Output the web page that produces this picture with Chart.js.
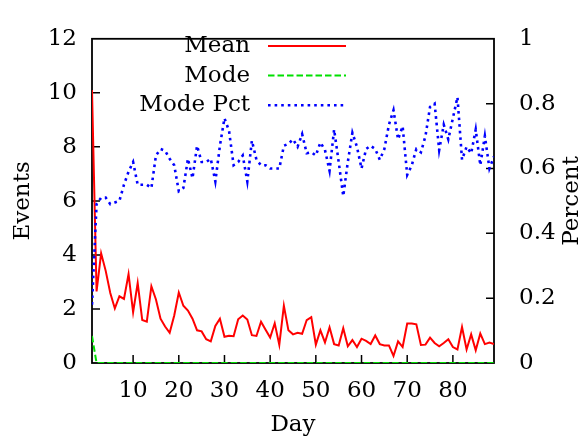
<!DOCTYPE html>
<html>
<head>
<meta charset="utf-8">
<script src="https://cdn.jsdelivr.net/npm/chart.js@4/dist/chart.umd.min.js"></script>
<style>
  html, body { margin: 0; padding: 0; background: #fff; }
  canvas { display: block; }
</style>
</head>
<body>
<canvas id="chart" width="585" height="439"></canvas>
<script>
const DAYS = [
    1, 2, 3, 4, 5, 6, 7, 8, 9, 10, 11, 12, 13, 14, 15, 16, 17, 18, 19, 20,
    21, 22, 23, 24, 25, 26, 27, 28, 29, 30, 31, 32, 33, 34, 35, 36, 37, 38, 39, 40,
    41, 42, 43, 44, 45, 46, 47, 48, 49, 50, 51, 52, 53, 54, 55, 56, 57, 58, 59, 60,
    61, 62, 63, 64, 65, 66, 67, 68, 69, 70, 71, 72, 73, 74, 75, 76, 77, 78, 79, 80,
    81, 82, 83, 84, 85, 86, 87, 88, 89,
];

const MEAN = [
    10.1, 2.65, 4.06, 3.41, 2.59, 2.02, 2.47, 2.37, 3.29, 1.88,
    2.96, 1.59, 1.53, 2.84, 2.35, 1.64, 1.35, 1.12, 1.76, 2.61,
    2.12, 1.94, 1.64, 1.21, 1.17, 0.88, 0.80, 1.37, 1.64, 0.97,
    1.01, 0.99, 1.62, 1.76, 1.61, 1.03, 1.00, 1.53, 1.23, 0.94,
    1.47, 0.67, 2.12, 1.21, 1.06, 1.12, 1.08, 1.59, 1.70, 0.68,
    1.21, 0.76, 1.32, 0.70, 0.65, 1.29, 0.62, 0.85, 0.59, 0.90,
    0.82, 0.70, 1.02, 0.70, 0.65, 0.65, 0.26, 0.80, 0.59, 1.46,
    1.46, 1.43, 0.67, 0.68, 0.94, 0.74, 0.62, 0.74, 0.88, 0.59,
    0.50, 1.33, 0.50, 1.06, 0.47, 1.09, 0.70, 0.76, 0.70,
];

const MODE = [
    1, 0, 0, 0, 0, 0, 0, 0, 0, 0,
    0, 0, 0, 0, 0, 0, 0, 0, 0, 0,
    0, 0, 0, 0, 0, 0, 0, 0, 0, 0,
    0, 0, 0, 0, 0, 0, 0, 0, 0, 0,
    0, 0, 0, 0, 0, 0, 0, 0, 0, 0,
    0, 0, 0, 0, 0, 0, 0, 0, 0, 0,
    0, 0, 0, 0, 0, 0, 0, 0, 0, 0,
    0, 0, 0, 0, 0, 0, 0, 0, 0, 0,
    0, 0, 0, 0, 0, 0, 0, 0, 0,
];

const MODE_PCT = [
    0.18, 0.49, 0.51, 0.51, 0.49, 0.495, 0.50, 0.55, 0.59, 0.62,
    0.55, 0.55, 0.55, 0.54, 0.64, 0.66, 0.655, 0.63, 0.61, 0.53,
    0.54, 0.63, 0.57, 0.67, 0.62, 0.62, 0.63, 0.56, 0.67, 0.755,
    0.716, 0.61, 0.62, 0.64, 0.56, 0.686, 0.627, 0.61, 0.61, 0.60,
    0.60, 0.60, 0.67, 0.676, 0.69, 0.667, 0.706, 0.647, 0.65, 0.64,
    0.68, 0.657, 0.593, 0.72, 0.62, 0.515, 0.62, 0.71, 0.667, 0.60,
    0.66, 0.67, 0.66, 0.627, 0.66, 0.735, 0.78, 0.69, 0.73, 0.58,
    0.61, 0.66, 0.65, 0.70, 0.79, 0.80, 0.657, 0.735, 0.69, 0.755,
    0.82, 0.627, 0.667, 0.647, 0.72, 0.61, 0.70, 0.60, 0.637,
];

const X_TICKS = [10, 20, 30, 40, 50, 60, 70, 80];
const SERIES_NAMES = ['Mean', 'Mode', 'Mode Pct'];
const RIGHT_TITLE = 'Percent';

const FONT = { family: "'DejaVu Serif', serif", size: 23 };
const BLACK = '#000';

// gnuplot style: full border, inward ticks
const framePlugin = {
    id: 'frame',
    beforeDatasetsDraw(chart) {
        const { ctx, chartArea: a, scales } = chart;
        const len = 8;
        ctx.save();
        ctx.strokeStyle = BLACK;
        ctx.lineWidth = 1.5;
        ctx.beginPath();
        scales.y.ticks.forEach((t) => {
            if (t.value <= scales.y.min || t.value >= scales.y.max) return;
            const py = scales.y.getPixelForValue(t.value);
            ctx.moveTo(a.left, py); ctx.lineTo(a.left + len, py);
        });
        scales.y1.ticks.forEach((t) => {
            if (t.value <= scales.y1.min || t.value >= scales.y1.max) return;
            const py = scales.y1.getPixelForValue(t.value);
            ctx.moveTo(a.right, py); ctx.lineTo(a.right - len, py);
        });
        scales.x.ticks.forEach((t) => {
            const px = scales.x.getPixelForValue(t.value);
            ctx.moveTo(px, a.bottom); ctx.lineTo(px, a.bottom - len);
        });
        ctx.stroke();
        ctx.lineWidth = 1.8;
        ctx.strokeRect(a.left, a.top, a.right - a.left, a.bottom - a.top);
        ctx.restore();
    },
};

// key in the top left: right-aligned names, sample line after them;
// right axis title reads bottom-to-top like the left one
const keyPlugin = {
    id: 'key',
    afterDatasetsDraw(chart) {
        const { ctx, chartArea: a } = chart;
        ctx.save();
        ctx.font = `${FONT.size}px ${FONT.family}`;
        ctx.fillStyle = BLACK;
        ctx.textAlign = 'right';
        ctx.textBaseline = 'alphabetic';
        chart.data.datasets.forEach((ds, i) => {
            const base = 52 + i * 29.6;
            ctx.fillText(ds.label, 250, base);
            ctx.strokeStyle = ds.borderColor;
            ctx.lineWidth = ds.borderWidth;
            ctx.setLineDash(ds.borderDash || []);
            ctx.beginPath();
            ctx.moveTo(268, base - 6);
            ctx.lineTo(346, base - 6);
            ctx.stroke();
        });
        ctx.translate(572, (a.top + a.bottom) / 2);
        ctx.rotate(-Math.PI / 2);
        ctx.textAlign = 'center';
        ctx.textBaseline = 'middle';
        ctx.fillText(RIGHT_TITLE, 0, 0);
        ctx.restore();
    },
};

function fixWidth(w) {
    return (scale) => { scale.width = w; };
}

new Chart(document.getElementById('chart'), {
    type: 'line',
    data: {
        labels: DAYS,
        datasets: [
            { label: SERIES_NAMES[0], data: MEAN, yAxisID: 'y', borderColor: '#ff0000', borderWidth: 2, order: 3 },
            { label: SERIES_NAMES[1], data: MODE, yAxisID: 'y', borderColor: '#00e000', borderWidth: 2, borderDash: [6.5, 3], order: 2 },
            { label: SERIES_NAMES[2], data: MODE_PCT, yAxisID: 'y1', borderColor: '#0000ff', borderWidth: 2.6, borderDash: [2.6, 4], order: 1 },
        ],
    },
    options: {
        responsive: false,
        animation: false,
        events: [],
        elements: { point: { radius: 0 }, line: { tension: 0, borderCapStyle: 'butt', borderJoinStyle: 'miter' } },
        layout: { padding: { top: 23, left: 0, right: 0, bottom: 0 } },
        plugins: { legend: { display: false }, tooltip: { enabled: false } },
        scales: {
            x: {
                type: 'linear',
                min: 1, max: 89,
                afterBuildTicks: (s) => { s.ticks = X_TICKS.map((v) => ({ value: v })); },
                afterFit: (s) => { s.height = 76; },
                grid: { display: false, drawTicks: false },
                border: { display: false },
                ticks: { font: FONT, color: BLACK, padding: 14, maxRotation: 0, autoSkip: false },
                title: { display: true, text: 'Day', font: FONT, color: BLACK, padding: 0 },
            },
            y: {
                position: 'left',
                min: 0, max: 12,
                afterFit: fixWidth(92),
                grid: { display: false, drawTicks: false },
                border: { display: false },
                ticks: { stepSize: 2, font: FONT, color: BLACK, padding: 15 },
                title: { display: true, text: 'Events', font: FONT, color: BLACK, padding: { top: 9, bottom: 0 } },
            },
            y1: {
                position: 'right',
                min: 0, max: 1,
                afterFit: fixWidth(91),
                grid: { display: false, drawTicks: false },
                border: { display: false },
                ticks: {
                    stepSize: 0.2, font: FONT, color: BLACK, padding: 25,
                    callback: (v) => String(Number(v.toFixed(1))),
                },
            },
        },
    },
    plugins: [framePlugin, keyPlugin],
});
</script>
</body>
</html>
